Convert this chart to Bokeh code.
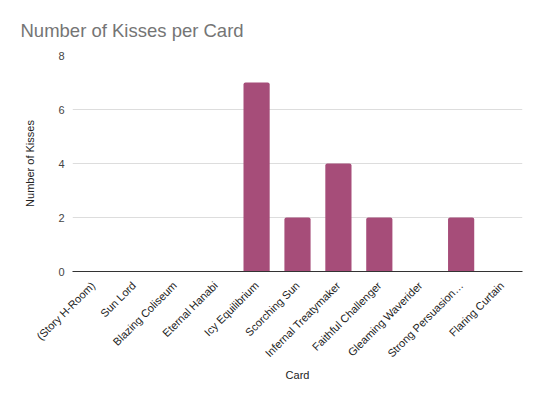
import math
from bokeh.plotting import figure
from bokeh.models import ColumnDataSource, FactorRange, Range1d, FixedTicker
from bokeh.embed import file_html
from bokeh.resources import INLINE

cards = ["(Story H-Room)", "Sun Lord", "Blazing Coliseum", "Eternal Hanabi",
         "Icy Equilibrium", "Scorching Sun", "Infernal Treatymaker",
         "Faithful Challenger", "Gleaming Waverider", "Strong Persuasion…",
         "Flaring Curtain"]
kisses = [0, 0, 0, 0, 7, 2, 4, 2, 0, 2, 0]
y_ticks = [0, 2, 4, 6, 8]

FONT = "Liberation Sans"

src = ColumnDataSource(data=dict(card=cards, kisses=kisses))

p = figure(width=524, height=383, output_backend="svg", toolbar_location=None,
           x_range=FactorRange(*cards, range_padding=0), y_range=Range1d(0, 8),
           min_border_left=72, min_border_right=2, min_border_top=55,
           min_border_bottom=111)
p.outline_line_color = None

p.title.text = "Number of Kisses per Card"
p.title.text_font = FONT
p.title.text_font_size = "18.5px"
p.title.text_font_style = "normal"
p.title.text_color = "#757575"
p.title.offset = -52
p.title.standoff = 30

p.vbar(x="card", top="kisses", width=0.64, source=src,
       fill_color="#A64D79", line_color=None, border_radius=(2, 2, 0, 0))

p.yaxis.ticker = FixedTicker(ticks=y_ticks)
p.yaxis.axis_line_color = None
p.yaxis.major_tick_line_color = None
p.yaxis.minor_tick_line_color = None
p.yaxis.major_label_text_font = FONT
p.yaxis.major_label_text_font_size = "11px"
p.yaxis.major_label_text_color = "#444444"
p.yaxis.major_label_standoff = 2
p.yaxis.axis_label = "Number of Kisses"
p.yaxis.axis_label_text_font = FONT
p.yaxis.axis_label_text_font_size = "11px"
p.yaxis.axis_label_text_font_style = "normal"
p.yaxis.axis_label_text_color = "#222222"
p.yaxis.axis_label_standoff = 19

p.xaxis.axis_line_color = "#333333"
p.xaxis.major_tick_line_color = None
p.xaxis.minor_tick_line_color = None
p.xaxis.major_label_orientation = math.pi / 4
p.xaxis.major_label_text_font = FONT
p.xaxis.major_label_text_font_size = "11px"
p.xaxis.major_label_text_color = "#222222"
p.xaxis.major_label_standoff = 6
p.xaxis.axis_label = "Card"
p.xaxis.axis_label_text_font = FONT
p.xaxis.axis_label_text_font_size = "11px"
p.xaxis.axis_label_text_font_style = "normal"
p.xaxis.axis_label_text_color = "#222222"
p.xaxis.axis_label_standoff = 2

p.xgrid.grid_line_color = None
p.ygrid.grid_line_color = "#dddddd"

open("out.html", "w").write(file_html(p, INLINE))
